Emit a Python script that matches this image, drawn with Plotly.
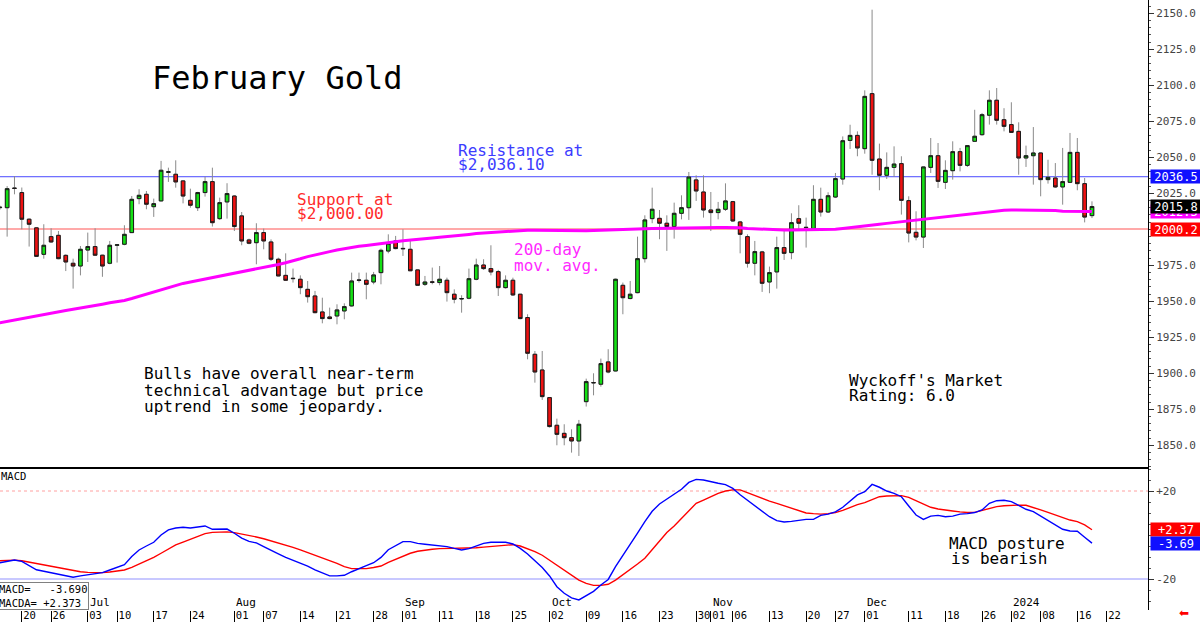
import plotly.graph_objects as go
import pandas as pd

# ---------------- trading calendar ----------------
holidays = ["2023-06-19", "2023-07-04", "2023-09-04", "2023-11-23",
            "2023-12-25", "2024-01-01", "2024-01-15"]
calendar = [d.strftime("%Y-%m-%d") for d in pd.bdate_range("2023-06-14", "2024-01-31")
            if d.strftime("%Y-%m-%d") not in holidays]
pos = {d: i for i, d in enumerate(calendar)}

# ---------------- data ----------------
dates = calendar[:150]   # 2023-06-14 .. 2024-01-18

open_ = [2015.0, 2015.0, 2028.6, 2025.5, 2007.0, 2001.0, 1982.6, 1994.9, 1995.8, 1981.9,
         1976.4, 1974.5, 1985.6, 1988.0, 1982.0, 1976.4, 1988.9, 1989.6, 1997.7, 2021.3,
         2024.3, 2015.7, 2019.7, 2039.6, 2038.2, 2033.6, 2020.1, 2015.0, 2025.5, 2033.1,
         2007.4, 2019.0, 2023.1, 2009.3, 1992.6, 1990.7, 1997.7, 1991.2, 1979.2, 1968.0,
         1965.7, 1965.3, 1958.3, 1953.7, 1942.6, 1939.1, 1939.8, 1943.3, 1946.8, 1964.8,
         1964.6, 1963.4, 1969.9, 1984.9, 1991.9, 1986.4, 1986.1, 1971.8, 1961.8, 1963.5,
         1963.0, 1964.6, 1954.9, 1951.6, 1952.1, 1965.3, 1975.2, 1972.7, 1970.6, 1959.5,
         1964.6, 1954.9, 1938.7, 1913.2, 1902.3, 1883.1, 1863.9, 1858.3, 1855.3, 1853.0,
         1880.3, 1893.6, 1892.4, 1907.9, 1901.6, 1961.1, 1951.9, 1956.0, 1979.6, 2007.4,
         2007.6, 2004.2, 2001.9, 2011.1, 2015.0, 2034.3, 2025.9, 2013.4, 2011.6, 2013.9,
         2019.2, 2005.1, 1994.9, 1976.4, 1984.3, 1963.4, 1970.4, 1987.3, 1983.8, 2007.4,
         2001.4, 2000.5, 2020.8, 2012.0, 2022.4, 2034.9, 2061.7, 2065.2, 2056.0, 2094.2,
         2048.8, 2037.5, 2043.0, 2045.6, 2019.9, 1997.9, 1994.6, 2043.0, 2051.1, 2032.6,
         2040.7, 2053.9, 2044.4, 2061.1, 2065.7, 2079.2, 2089.6, 2076.1, 2072.7, 2068.0,
         2049.5, 2051.1, 2053.0, 2034.5, 2035.6, 2029.4, 2032.6, 2053.4, 2031.7, 2009.5]
high = [2016.5, 2030.0, 2037.0, 2029.0, 2007.5, 2001.5, 2003.5, 2000.7, 1998.8, 1982.6,
        1979.6, 1988.4, 1997.7, 2000.7, 1982.3, 1991.9, 1989.5, 2002.8, 2023.1, 2027.8,
        2026.6, 2021.3, 2047.5, 2042.8, 2047.9, 2033.8, 2028.2, 2026.0, 2036.6, 2042.8,
        2022.0, 2032.0, 2023.6, 2012.0, 1993.5, 2004.2, 2000.5, 1993.0, 1980.3, 1983.3,
        1972.7, 1968.0, 1964.1, 1957.2, 1952.5, 1945.6, 1947.9, 1948.6, 1969.9, 1969.9,
        1969.9, 1970.4, 1986.6, 1996.5, 1995.4, 2000.0, 1993.0, 1972.0, 1967.6, 1973.4,
        1974.5, 1966.4, 1958.3, 1954.2, 1972.7, 1979.6, 1979.2, 1988.9, 1971.8, 1968.0,
        1966.4, 1955.1, 1941.0, 1915.5, 1915.5, 1883.3, 1868.5, 1864.6, 1861.1, 1867.6,
        1896.3, 1900.0, 1910.2, 1916.7, 1965.7, 1963.0, 1964.1, 1994.9, 2009.7, 2028.9,
        2013.4, 2009.7, 2018.5, 2023.6, 2039.8, 2037.5, 2037.5, 2025.9, 2019.0, 2031.9,
        2019.7, 2005.8, 1996.5, 1991.9, 1985.0, 1974.1, 1994.9, 1999.5, 2011.1, 2016.7,
        2008.1, 2030.6, 2028.9, 2025.7, 2039.1, 2064.5, 2072.6, 2068.0, 2096.5, 2152.5,
        2059.5, 2053.4, 2057.6, 2050.7, 2022.9, 2012.5, 2043.5, 2063.4, 2059.9, 2047.9,
        2061.1, 2056.5, 2058.3, 2083.0, 2080.8, 2096.5, 2098.1, 2084.1, 2088.2, 2074.3,
        2058.1, 2071.0, 2053.2, 2048.3, 2046.0, 2056.5, 2066.9, 2063.4, 2035.6, 2019.4]
low = [2013.5, 1994.9, 2024.3, 2000.0, 1988.0, 1981.0, 1979.6, 1990.7, 1979.2, 1971.0,
       1958.8, 1968.0, 1977.3, 1981.8, 1967.0, 1975.7, 1976.9, 1988.9, 1997.5, 2017.4,
       2013.9, 2008.6, 2019.5, 2032.9, 2028.9, 2018.0, 2015.0, 2012.7, 2022.7, 2001.9,
       2006.5, 2007.4, 1998.8, 1988.9, 1989.6, 1975.7, 1986.1, 1978.0, 1967.4, 1964.1,
       1963.0, 1954.9, 1949.1, 1941.7, 1934.7, 1937.5, 1934.0, 1937.5, 1946.3, 1963.0,
       1951.4, 1961.8, 1961.8, 1983.3, 1986.1, 1981.5, 1971.0, 1961.0, 1960.6, 1961.8,
       1961.1, 1949.8, 1948.6, 1942.1, 1951.4, 1964.6, 1971.8, 1968.0, 1953.7, 1958.8,
       1953.7, 1937.5, 1909.7, 1893.5, 1881.5, 1862.3, 1850.0, 1850.0, 1844.9, 1842.6,
       1876.9, 1884.7, 1890.7, 1900.0, 1901.4, 1941.0, 1951.4, 1955.6, 1976.9, 2004.2,
       1993.1, 1985.0, 1993.5, 2006.9, 2006.5, 2019.7, 2008.1, 1998.8, 2006.9, 2012.7,
       2005.1, 1983.3, 1973.4, 1968.0, 1956.5, 1955.6, 1958.8, 1978.7, 1979.2, 1998.8,
       1987.3, 2000.0, 2008.8, 2011.3, 2021.7, 2031.0, 2055.8, 2050.7, 2052.5, 2037.9,
       2027.1, 2034.9, 2036.3, 2010.2, 1990.9, 1992.3, 1987.0, 2039.1, 2028.7, 2028.0,
       2034.5, 2040.2, 2043.3, 2060.9, 2065.0, 2072.7, 2072.7, 2068.0, 2066.9, 2037.9,
       2043.3, 2031.0, 2022.9, 2031.7, 2028.7, 2017.1, 2032.4, 2027.1, 2004.8, 2007.8]
close = [2015.3, 2028.2, 2028.4, 2007.0, 2003.5, 1981.2, 1988.9, 1991.2, 1979.6, 1977.3,
         1974.5, 1986.1, 1988.0, 1982.0, 1974.5, 1988.9, 1989.2, 1996.5, 2020.8, 2023.6,
         2017.4, 2017.8, 2041.0, 2039.9, 2032.9, 2023.1, 2016.7, 2025.5, 2033.1, 2004.6,
         2018.5, 2024.8, 2001.9, 1991.9, 1990.3, 1997.7, 1991.9, 1979.2, 1967.6, 1964.6,
         1965.9, 1959.5, 1953.2, 1942.1, 1938.0, 1938.0, 1944.0, 1946.3, 1964.1, 1964.6,
         1961.8, 1968.3, 1985.4, 1990.3, 1986.6, 1986.7, 1971.2, 1961.1, 1963.4, 1963.2,
         1965.3, 1956.0, 1951.4, 1951.9, 1965.7, 1975.2, 1972.7, 1970.4, 1959.5, 1964.6,
         1954.4, 1938.0, 1913.9, 1900.9, 1883.8, 1863.0, 1857.6, 1855.3, 1853.0, 1864.6,
         1894.2, 1893.4, 1906.7, 1900.9, 1965.3, 1952.5, 1954.9, 1979.6, 2006.5, 2013.9,
         2004.2, 2001.9, 2011.1, 2015.0, 2036.3, 2026.6, 2013.4, 2011.6, 2013.9, 2019.7,
         2005.8, 1996.5, 1976.4, 1984.5, 1962.5, 1969.9, 1987.3, 1983.3, 2004.6, 2004.2,
         2001.2, 2020.8, 2012.0, 2023.3, 2035.2, 2061.5, 2065.2, 2056.5, 2092.3, 2047.9,
         2037.5, 2043.0, 2045.3, 2020.1, 1997.4, 1994.6, 2043.3, 2051.1, 2033.3, 2040.9,
         2053.9, 2044.4, 2058.1, 2064.6, 2079.6, 2089.6, 2075.7, 2071.5, 2067.3, 2049.5,
         2051.1, 2053.0, 2034.5, 2036.1, 2029.4, 2033.1, 2053.4, 2031.7, 2008.5, 2015.8]

ma200 = [1935.1, 1936.1, 1937.1, 1938.1, 1939.0, 1940.0, 1940.9, 1941.8, 1942.7, 1943.6,
         1944.4, 1945.2, 1946.1, 1947.0, 1948.0, 1949.0, 1949.7, 1950.6, 1951.9, 1953.4,
         1954.9, 1956.4, 1958.0, 1959.5, 1961.1, 1962.4, 1963.4, 1964.4, 1965.4, 1966.3,
         1967.1, 1968.1, 1969.1, 1970.2, 1971.3, 1972.3, 1973.3, 1974.4, 1975.6, 1976.8,
         1978.0, 1979.5, 1981.0, 1982.3, 1983.4, 1984.5, 1985.6, 1986.6, 1987.6, 1988.2,
         1988.8, 1989.3, 1989.8, 1990.6, 1991.3, 1992.0, 1992.6, 1993.2, 1993.6, 1994.0,
         1994.4, 1994.8, 1995.2, 1995.8, 1996.4, 1997.0, 1997.4, 1997.8, 1998.1, 1998.4,
         1998.8, 1999.1, 1999.4, 1999.4, 1999.3, 1999.2, 1999.1, 1999.0, 1998.9, 1998.8,
         1999.0, 1999.1, 1999.2, 1999.3, 1999.4, 1999.6, 1999.8, 2000.1, 2000.3, 2000.5,
         2000.6, 2000.8, 2001.0, 2001.1, 2001.3, 2001.4, 2001.4, 2001.3, 2001.3, 2001.2,
         2001.2, 2001.0, 2000.6, 2000.3, 2000.0, 1999.8, 1999.6, 1999.5, 1999.5, 1999.5,
         1999.5, 1999.5, 1999.5, 1999.6, 2000.0, 2000.5, 2001.2, 2001.8, 2002.4, 2002.9,
         2003.5, 2004.1, 2004.7, 2005.3, 2005.9, 2006.4, 2007.0, 2007.6, 2008.2, 2008.8,
         2009.4, 2010.0, 2010.6, 2011.2, 2011.8, 2012.4, 2012.9, 2013.3, 2013.4, 2013.4,
         2013.4, 2013.4, 2013.4, 2013.3, 2013.0, 2012.6, 2012.5, 2012.4, 2012.4, 2012.3]

macd = [-12.6, -12.0, -11.4, -12.0, -14.1, -15.8, -16.5, -17.1, -18.0, -18.6,
        -19.2, -18.6, -18.0, -17.6, -17.1, -15.9, -14.8, -13.5, -9.8, -6.8,
        -5.0, -3.3, 0.0, 2.3, 3.2, 3.5, 3.2, 3.5, 4.1, 2.6,
        2.7, 2.7, 0.8, -1.4, -2.9, -3.6, -5.3, -6.8, -8.6, -10.2,
        -11.4, -12.6, -14.1, -15.9, -17.4, -18.6, -18.6, -18.3, -16.7, -15.2,
        -13.9, -12.6, -10.2, -6.7, -4.7, -3.0, -3.0, -3.8, -4.2, -4.5,
        -4.7, -5.3, -6.1, -6.8, -6.2, -5.0, -3.8, -3.3, -3.3, -3.3,
        -4.1, -6.1, -8.6, -11.8, -14.8, -18.6, -23.5, -26.5, -28.6, -29.5,
        -27.7, -25.6, -22.7, -20.2, -14.4, -9.5, -4.5, 0.8, 6.1, 10.8,
        14.1, 16.2, 18.6, 20.8, 23.9, 25.3, 25.0, 24.1, 23.5, 22.9,
        21.2, 18.3, 15.9, 13.2, 11.0, 8.3, 6.5, 5.9, 6.2, 6.8,
        7.1, 7.1, 8.9, 9.5, 10.5, 12.6, 15.6, 18.2, 19.7, 23.0,
        21.7, 20.0, 18.9, 17.4, 13.2, 9.1, 7.1, 8.6, 8.9, 8.3,
        8.6, 9.5, 9.7, 10.2, 11.4, 14.4, 15.6, 15.8, 15.2, 13.6,
        11.7, 10.6, 8.6, 6.8, 4.8, 2.6, 1.8, 1.7, -1.0, -3.69]
macda = [-11.7, -11.4, -11.4, -11.7, -12.3, -13.2, -13.8, -14.2, -14.7, -15.6,
         -16.2, -16.7, -17.0, -17.1, -17.1, -16.8, -16.4, -15.9, -14.7, -13.3,
         -11.7, -10.2, -8.3, -6.4, -4.5, -3.2, -2.0, -0.5, 0.6, 1.2,
         1.4, 1.4, 1.1, 0.5, -0.2, -0.9, -1.7, -2.6, -3.6, -4.7,
         -5.6, -6.8, -8.0, -9.2, -10.5, -11.7, -12.9, -14.4, -15.3, -15.3,
         -15.3, -14.8, -14.1, -12.4, -11.1, -9.5, -8.3, -7.4, -6.8, -6.5,
         -6.2, -6.1, -6.1, -6.2, -6.1, -5.8, -5.5, -5.3, -5.0, -4.7,
         -4.4, -5.0, -6.2, -7.6, -9.2, -11.4, -13.6, -15.9, -18.2, -20.5,
         -22.0, -22.9, -22.9, -22.4, -20.5, -18.2, -15.6, -13.2, -10.6, -6.8,
         -2.6, 1.1, 4.1, 7.6, 11.1, 14.4, 15.9, 17.4, 18.9, 20.0,
         20.5, 20.5, 19.2, 17.7, 16.6, 15.4, 14.4, 13.3, 12.0, 10.9,
         10.0, 9.7, 9.5, 9.7, 10.2, 11.2, 12.6, 13.8, 14.7, 16.2,
         17.4, 17.7, 17.9, 17.9, 17.1, 15.6, 14.1, 12.6, 11.8, 11.2,
         10.9, 10.5, 10.2, 10.3, 11.1, 12.1, 12.9, 13.3, 13.6, 13.6,
         13.5, 12.6, 11.4, 10.3, 9.1, 7.9, 6.8, 6.1, 4.6, 2.37]

resistance_level = 2036.5
support_level = 2000.2
last_close = 2015.8
last_ma = 2012.3
last_macd = -3.690
last_macda = 2.373

tick_dates = ["2023-06-20", "2023-06-26", "2023-07-03", "2023-07-10", "2023-07-17", "2023-07-24",
              "2023-08-01", "2023-08-07", "2023-08-14", "2023-08-21", "2023-08-28", "2023-09-01",
              "2023-09-11", "2023-09-18", "2023-09-25", "2023-10-02", "2023-10-09", "2023-10-16",
              "2023-10-23", "2023-10-30", "2023-11-01", "2023-11-06", "2023-11-13", "2023-11-20",
              "2023-11-27", "2023-12-01", "2023-12-11", "2023-12-18", "2023-12-26", "2024-01-02",
              "2024-01-08", "2024-01-16", "2024-01-22"]
tick_labels = [d[-2:] for d in tick_dates]
month_labels = ["Jul", "Aug", "Sep", "Oct", "Nov", "Dec", "2024"]
month_dates = ["2023-07-03", "2023-08-01", "2023-09-01", "2023-10-02", "2023-11-01",
               "2023-12-01", "2024-01-02"]
price_ticks = [1850, 1875, 1900, 1925, 1950, 1975, 2000, 2025, 2050, 2075, 2100, 2125, 2150]

# ---------------- figure ----------------
W, H = 1200, 622
ML, MR, MT, MB = 0, 52, 0, 12
PW, PH = W - ML - MR, H - MT - MB
split_px = 467
FONT = "DejaVu Sans Mono"

def xp(px):
    return px / PW

def yp(py):
    return (PH - py) / PH

x = [pos[d] for d in dates]
body_hi = [max(o, c) for o, c in zip(open_, close)]
body_lo = [min(o, c) for o, c in zip(open_, close)]

fig = go.Figure()
# wicks
fig.add_trace(go.Candlestick(
    x=x, open=open_, high=high, low=low, close=close,
    increasing=dict(line=dict(color="#8a8a8a", width=1), fillcolor="rgba(0,0,0,0)"),
    decreasing=dict(line=dict(color="#8a8a8a", width=1), fillcolor="rgba(0,0,0,0)"),
    whiskerwidth=0, hoverinfo="skip", showlegend=False, xaxis="x", yaxis="y"))
# bodies
fig.add_trace(go.Candlestick(
    x=x, open=open_, high=body_hi, low=body_lo, close=close,
    increasing=dict(line=dict(color="#1a1a1a", width=1), fillcolor="#14e014"),
    decreasing=dict(line=dict(color="#1a1a1a", width=1), fillcolor="#ee1111"),
    whiskerwidth=0, showlegend=False, xaxis="x", yaxis="y"))
fig.add_trace(go.Scatter(x=x, y=ma200, mode="lines", line=dict(color="#ff00ff", width=3),
                         showlegend=False, xaxis="x", yaxis="y"))
fig.add_trace(go.Scatter(x=x, y=macda, mode="lines", line=dict(color="#ff0000", width=1.4),
                         showlegend=False, xaxis="x2", yaxis="y2"))
fig.add_trace(go.Scatter(x=x, y=macd, mode="lines", line=dict(color="#0000ff", width=1.4),
                         showlegend=False, xaxis="x2", yaxis="y2"))

# horizontal reference lines
shapes = [
    dict(type="line", xref="paper", x0=0, x1=1, yref="y", y0=resistance_level, y1=resistance_level,
         line=dict(color="#4a4aff", width=1), layer="below"),
    dict(type="line", xref="paper", x0=0, x1=1, yref="y", y0=support_level, y1=support_level,
         line=dict(color="#ff8c8c", width=1.5), layer="below"),
    dict(type="line", xref="paper", x0=0, x1=1, yref="y2", y0=20, y1=20,
         line=dict(color="#ffa0a0", width=1, dash="dot"), layer="below"),
    dict(type="line", xref="paper", x0=0, x1=1, yref="y2", y0=-20, y1=-20,
         line=dict(color="#c8c8ff", width=2), layer="below"),
]

# axis ranges from pixel calibration
p_top = support_level + (229 - 0) / 1.44
p_bot = support_level + (229 - split_px) / 1.44
m_top = (535 - split_px) / 2.2
m_bot = (535 - PH) / 2.2
x0 = (0 + 0.19) / 7.33
x1 = (PW + 0.19) / 7.33

ann = []
def text(px, py, s, color="black", size=16, anchor="left"):
    ann.append(dict(xref="paper", yref="paper", x=xp(px), y=yp(py), text=s, showarrow=False,
                    xanchor=anchor, yanchor="middle", font=dict(family=FONT, size=size, color=color)))

text(150, 78, "February Gold", size=32)
text(456, 150, "Resistance at", color="#3c3cff")
text(456, 165, "$2,036.10", color="#3c3cff")
text(295, 199, "Support at", color="#ff2a2a")
text(295, 214, "$2,000.00", color="#ff2a2a")
text(512, 249, "200-day", color="#ff2aff")
text(512, 265, "mov. avg.", color="#ff2aff")
text(142, 374, "Bulls have overall near-term")
text(142, 390, "technical advantage but price")
text(142, 407, "uptrend in some jeopardy.")
text(847, 380, "Wyckoff's Market")
text(847, 396, "Rating: 6.0")
text(947, 543, "MACD posture")
text(949, 558, "is bearish")
text(-1, 476, "MACD", size=10.5)

for lab, d in zip(month_labels, month_dates):
    ann.append(dict(xref="x2", yref="paper", x=pos[d], y=yp(602), text=lab, showarrow=False,
                    xanchor="left", yanchor="middle", xshift=1, borderpad=0,
                    font=dict(family=FONT, size=11, color="black")))

# value boxes on the right axis
def vbox(val, txt, bg, yref):
    ann.append(dict(xref="paper", yref=yref, x=1, y=val, text=txt, showarrow=False,
                    xanchor="left", yanchor="middle", xshift=2, width=50, height=13,
                    align="center", bgcolor=bg, borderpad=0,
                    font=dict(family=FONT, size=12, color="white")))

vbox(resistance_level, f"{resistance_level:.1f}", "#1010ff", "y")
vbox(last_ma, f"{last_ma:.1f}", "#ff00ff", "y")
vbox(last_close, f"{last_close:.1f}", "#000000", "y")
vbox(support_level, f"{support_level:.1f}", "#ff0000", "y")
vbox(last_macda, f"{last_macda:+.2f}", "#ff0000", "y2")
vbox(last_macd, f"{last_macd:+.2f}", "#1010ff", "y2")

nb = "\u00a0"
ann.append(dict(xref="paper", yref="paper", x=xp(-2), y=yp(596), showarrow=False,
                text=f"MACD={nb*3}{last_macd:.3f}<br>MACDA={nb}{last_macda:+.3f}",
                xanchor="left", yanchor="middle", align="left",
                bordercolor="#808080", borderwidth=1, borderpad=0, bgcolor="white",
                font=dict(family=FONT, size=10.5, color="black")))

ann.append(dict(xref="paper", yref="paper", x=xp(1184), y=yp(621), text="⬅", showarrow=False,
                xanchor="center", yanchor="bottom", borderpad=0,
                font=dict(family="DejaVu Sans", size=12, color="#ff0000")))

axis_font = dict(family=FONT, size=11, color="#444444")

fig.update_layout(
    width=W, height=H, margin=dict(l=ML, r=MR, t=MT, b=MB, autoexpand=False),
    paper_bgcolor="white", plot_bgcolor="white", showlegend=False,
    shapes=shapes, annotations=ann,
    xaxis=dict(domain=[0, 1], anchor="y", range=[x0, x1], showticklabels=False, ticks="",
               showgrid=False, zeroline=False, showline=True, linecolor="black", linewidth=2,
               automargin=False, rangeslider=dict(visible=False)),
    yaxis=dict(domain=[(PH - split_px) / PH, 1], anchor="x", range=[p_bot, p_top], side="right",
               tickvals=price_ticks, tickformat=".1f", ticks="outside", ticklen=5, tickcolor="#333",
               minor=dict(dtick=5, ticks="outside", ticklen=2, tickcolor="#555"),
               showgrid=False, zeroline=False, showline=True, linecolor="black", linewidth=1,
               automargin=False, tickfont=axis_font),
    xaxis2=dict(domain=[0, 1], anchor="y2", range=[x0, x1], matches="x",
                tickvals=[pos[d] for d in tick_dates], ticktext=tick_labels, tickangle=0,
                ticks="outside", ticklen=12, tickcolor="black", tickwidth=1,
                ticklabelposition="outside right", ticklabelstandoff=-5, ticklabelshift=1,
                showgrid=False, zeroline=False, showline=False, automargin=False,
                tickfont=dict(family=FONT, size=10.5, color="black"),
                rangeslider=dict(visible=False)),
    yaxis2=dict(domain=[0, (PH - split_px) / PH], anchor="x2", range=[m_bot, m_top], side="right",
                tickvals=[20, -20], ticktext=["+20", "-20"], ticks="outside", ticklen=5,
                tickcolor="#333", minor=dict(dtick=5, ticks="outside", ticklen=2, tickcolor="#555"),
                showgrid=False, zeroline=False, showline=True, linecolor="black", linewidth=1,
                automargin=False, tickfont=axis_font),
)

fig.write_html("out.html")
